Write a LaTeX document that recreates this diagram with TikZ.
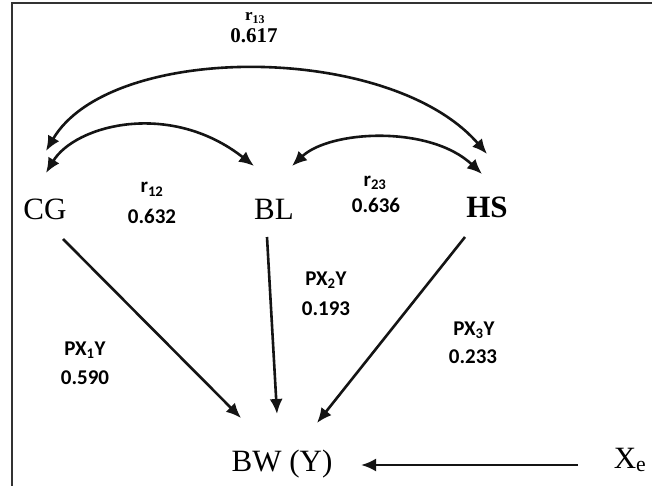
\documentclass[tikz,border=0pt]{standalone}
\usepackage{fontspec}
\setmainfont{Liberation Serif}
\newfontfamily\numfont{Carlito}
\usetikzlibrary{arrows.meta}
\tikzset{
  x=1pt, y=-1pt,
  frameline/.style={draw=black!80, line width=1.2pt},
  conn/.style={draw=black!92, line width=2.6pt, -{Latex[length=15pt,width=13pt]}},
  biconn/.style={draw=black!92, line width=2.6pt, {Latex[length=15pt,width=13pt]}-{Latex[length=15pt,width=13pt]}},
  var/.style={inner sep=0pt, anchor=base, font=\fontsize{31}{31}\selectfont},
  coef/.style={inner sep=0pt, anchor=base, font=\numfont\bfseries\fontsize{21}{21}\selectfont},
}
\begin{document}
\begin{tikzpicture}
\useasboundingbox (0,0) rectangle (652,486);
\fill[white] (0,0) rectangle (652,486);
% frame
\coordinate (fb) at (12,486);
\coordinate (fc) at (12,3);
\coordinate (fr) at (652,3);
\draw[frameline] (fb) -- (fc) -- (fr);

% variables
\node[var] (CG) at (45,219) {CG};
\node[var] (BL) at (274,219) {BL};
\node[var] (HS) at (487,218) {\bfseries HS};
\node[var] (BW) at (282,471) {BW (Y)};
\node[var] (Xe) at (630,468) {X\textsubscript{e}};

% coefficients
\node[inner sep=0pt, anchor=base, font=\bfseries\fontsize{17}{17}\selectfont] (r13) at (255,21) {r\textsubscript{13}};
\node[inner sep=0pt, anchor=base, font=\bfseries\fontsize{21}{21}\selectfont] (v13) at (254,43) {0.617};
\node[coef] (r12) at (152,193) {r\textsubscript{12}};
\node[coef] (v12) at (152,223) {0.632};
\node[coef] (r23) at (375,186) {r\textsubscript{23}};
\node[coef] (v23) at (376,212) {0.636};
\node[coef] (p1) at (85,355) {PX\textsubscript{1}Y};
\node[coef] (q1) at (85,384) {0.590};
\node[coef] (p2) at (326,285) {PX\textsubscript{2}Y};
\node[coef] (q2) at (326,315) {0.193};
\node[coef] (p3) at (474,335) {PX\textsubscript{3}Y};
\node[coef] (q3) at (473,363) {0.233};

% connector end points
\coordinate (cgTop) at (46,151);
\coordinate (cgMid) at (46,173);
\coordinate (blL) at (254,166);
\coordinate (blR) at (292,166);
\coordinate (hsTop) at (487,154);
\coordinate (hsMid) at (482,174);
\coordinate (cgOut) at (63,239);
\coordinate (blOut) at (267,237);
\coordinate (hsOut) at (465,237);
\coordinate (bwL) at (241,418);
\coordinate (bwM) at (277,414);
\coordinate (bwR) at (317,423);
\coordinate (bwE) at (361,465);
\coordinate (xeOut) at (578,465);

% correlations
\draw[biconn] (cgTop) .. controls (110,42) and (390,42) .. (hsTop);
\draw[biconn] (cgMid) .. controls (75,125) and (170,100) .. (blL);
\draw[biconn] (blR) .. controls (330,130) and (430,125) .. (hsMid);

% paths
\draw[conn] (cgOut) -- (bwL);
\draw[conn] (blOut) -- (bwM);
\draw[conn] (hsOut) -- (bwR);
\draw[conn] (xeOut) -- (bwE);
\end{tikzpicture}
\end{document}
